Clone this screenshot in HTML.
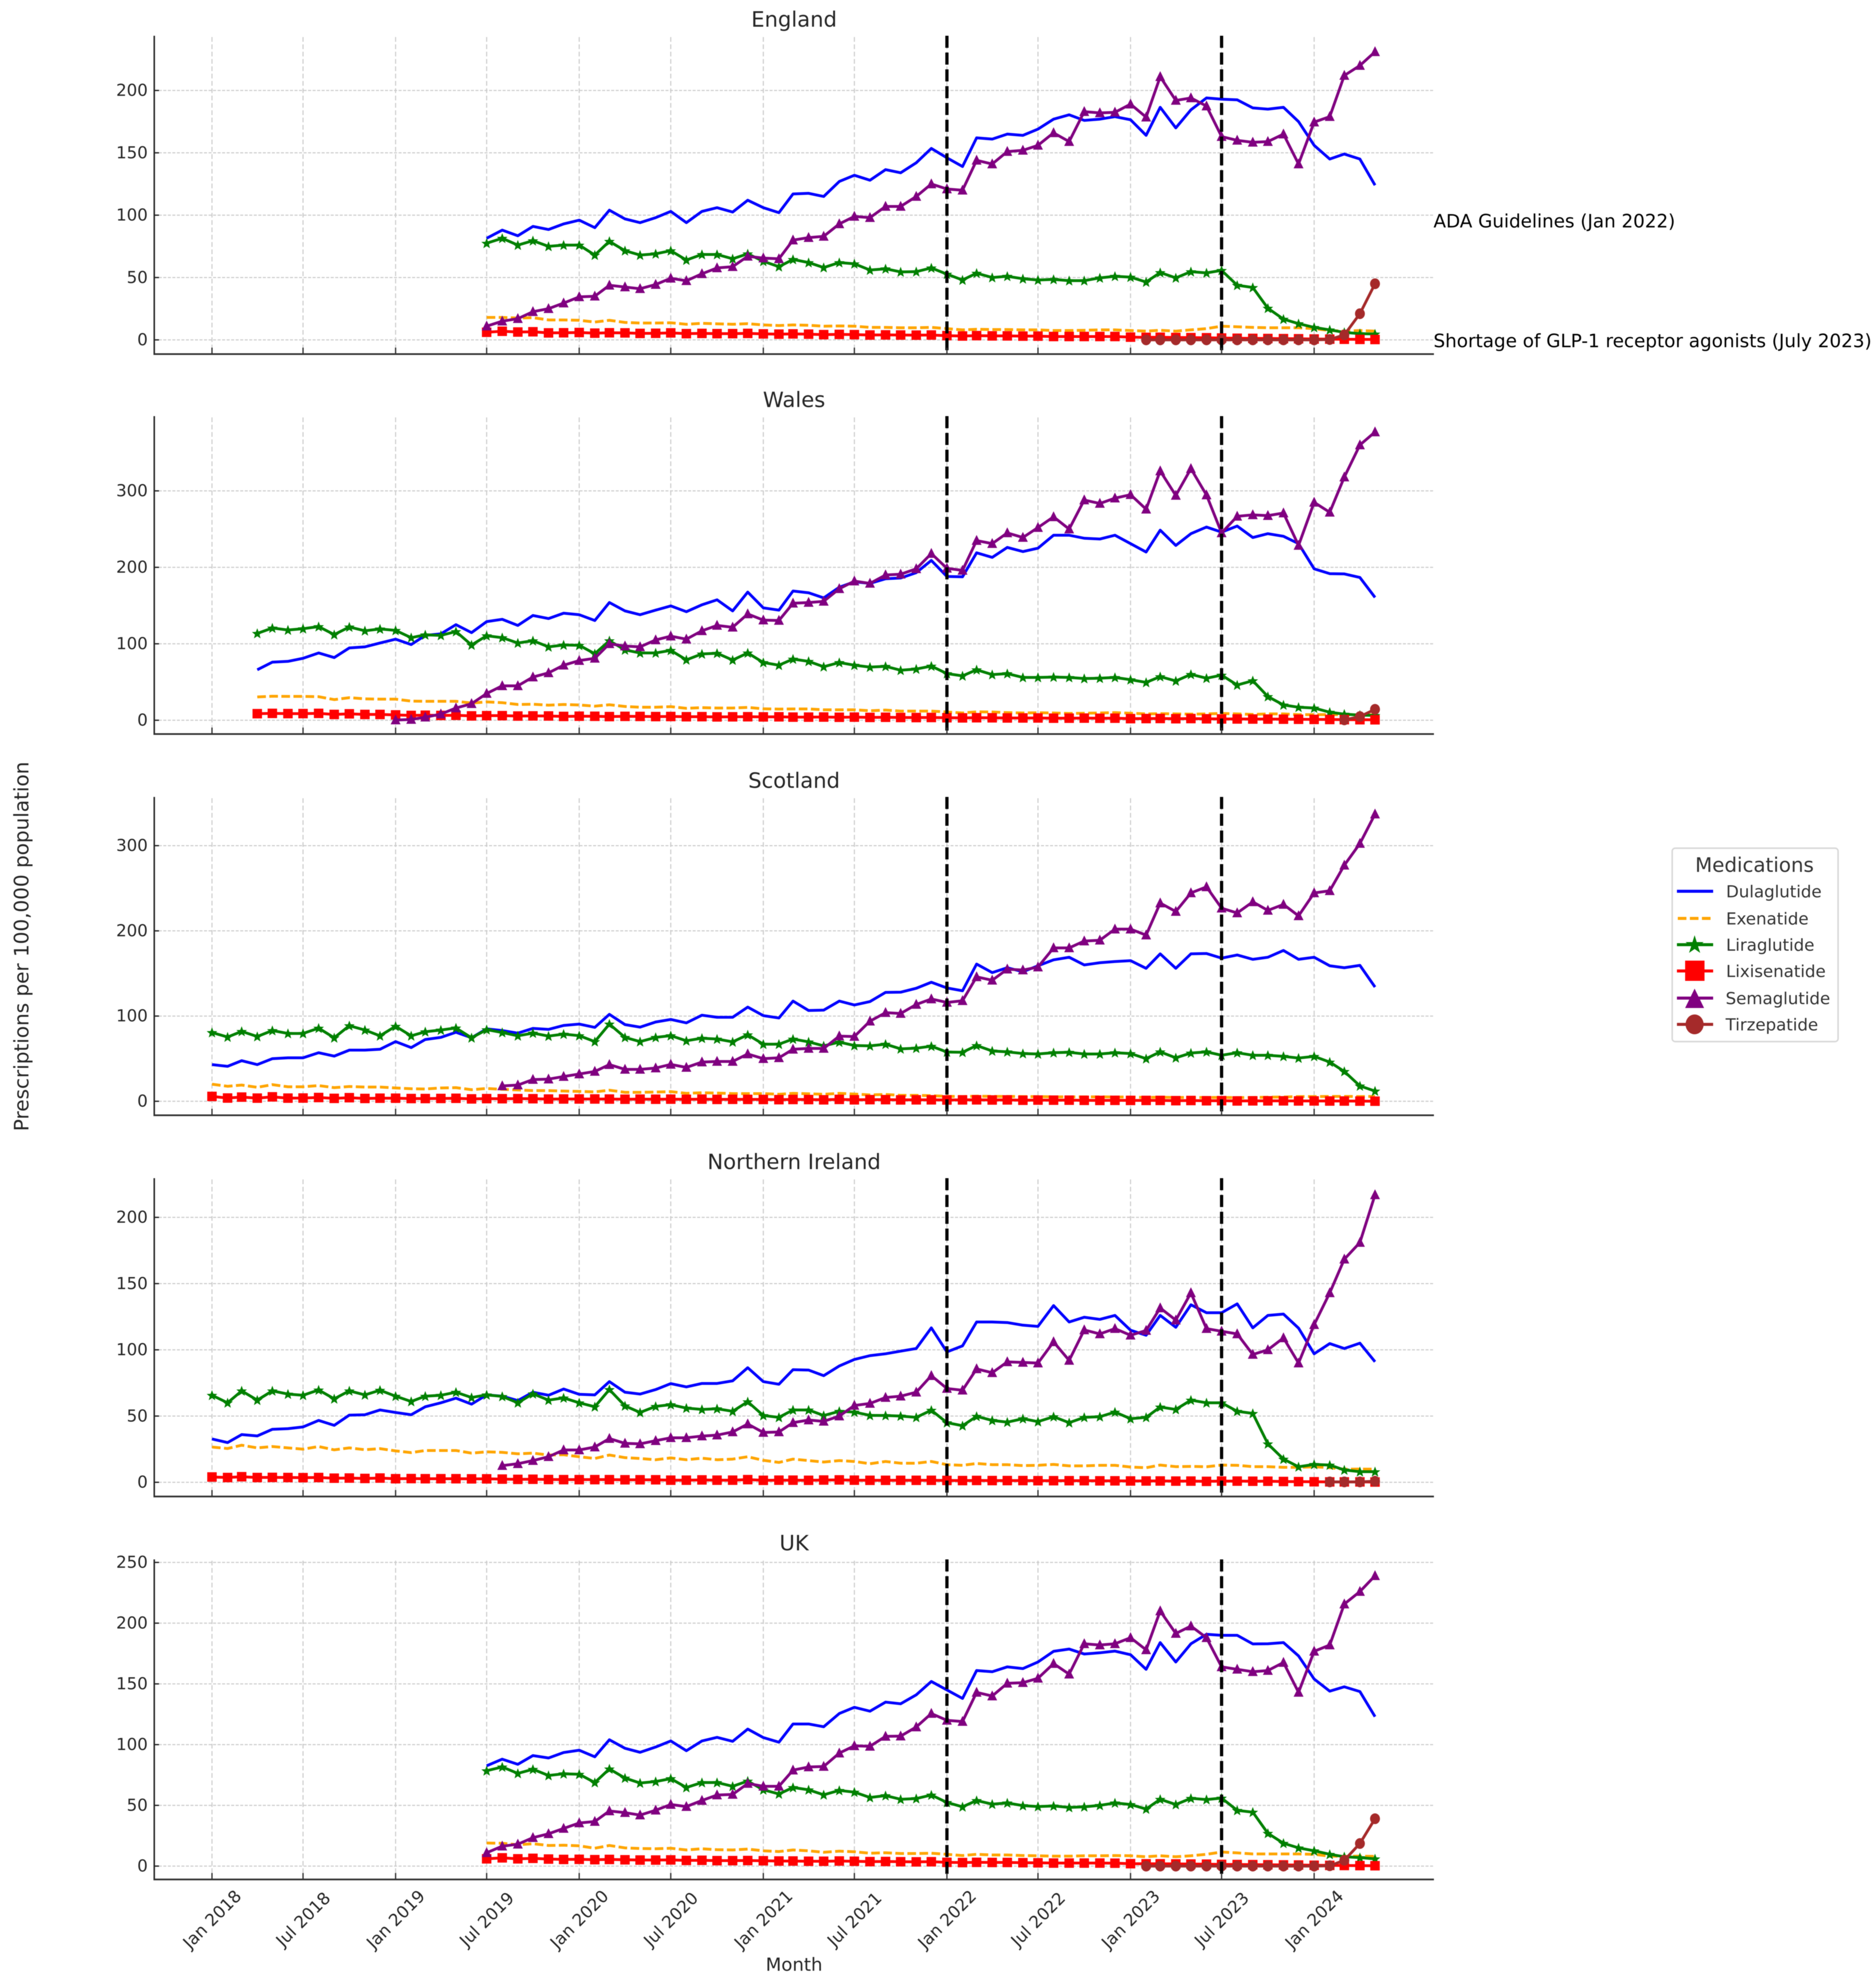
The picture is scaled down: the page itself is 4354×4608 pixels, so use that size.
<!DOCTYPE html>
<html lang="en">
<head>
<meta charset="utf-8">
<title>GLP-1 receptor agonist prescriptions per 100,000 population</title>
<style>
html,body{margin:0;padding:0;background:#fff;}
svg{display:block;filter:blur(0.9px);}
text{font-family:"DejaVu Sans","Liberation Sans",sans-serif;}
</style>
</head>
<body>
<svg id="chart" xmlns="http://www.w3.org/2000/svg" width="4354" height="4608" viewBox="0 0 4354 4608">
  <rect x="0" y="0" width="4354" height="4608" fill="#ffffff"/>
  <g id="plots"></g>

  <text x="50" y="2197" font-size="46.4" fill="#262626" text-anchor="middle" dominant-baseline="central" transform="rotate(-90 50 2197)">Prescriptions per 100,000 population</text>
  <text x="1843" y="4575" font-size="42" fill="#262626" text-anchor="middle">Month</text>

  <text x="3327" y="528" font-size="42.5" fill="#000000">ADA Guidelines (Jan 2022)</text>
  <text x="3327" y="806" font-size="42.6" fill="#000000">Shortage of GLP-1 receptor agonists (July 2023)</text>

  <g>
    <rect x="3881" y="1969" width="385" height="449" rx="7" ry="7" fill="#ffffff" stroke="#d8d8d8" stroke-width="3.5"/>
    <text x="4072" y="2024" font-size="46" fill="#333333" text-anchor="middle">Medications</text>

    <g>
      <line x1="3892" x2="3976" y1="2069" y2="2069" stroke="#0000ff" stroke-width="7"/>
      <text x="4006" y="2083" font-size="38.5" fill="#333333">Dulaglutide</text>
    </g>
    <g>
      <line x1="3894" x2="3974" y1="2132" y2="2132" stroke="#ffa500" stroke-width="7" stroke-dasharray="20 8"/>
      <text x="4006" y="2146" font-size="38.5" fill="#333333">Exenatide</text>
    </g>
    <g>
      <line x1="3892" x2="3976" y1="2193" y2="2193" stroke="#008000" stroke-width="7"/>
      <polygon points="3933,2171 3938,2187 3954,2187 3941,2197 3946,2212 3933,2203 3920,2212 3925,2197 3912,2187 3928,2187" fill="#008000"/>
      <text x="4006" y="2207" font-size="38.5" fill="#333333">Liraglutide</text>
    </g>
    <g>
      <line x1="3892" x2="3976" y1="2254" y2="2254" stroke="#ff0000" stroke-width="7"/>
      <rect x="3911" y="2230" width="45" height="47" fill="#ff0000"/>
      <text x="4006" y="2268" font-size="38.5" fill="#333333">Lixisenatide</text>
    </g>
    <g>
      <line x1="3892" x2="3976" y1="2317" y2="2317" stroke="#800080" stroke-width="7"/>
      <polygon points="3933,2295 3955,2340 3911,2340" fill="#800080"/>
      <text x="4005" y="2331" font-size="38.5" fill="#333333">Semaglutide</text>
    </g>
    <g>
      <line x1="3892" x2="3976" y1="2378" y2="2378" stroke="#a52a2a" stroke-width="7"/>
      <ellipse cx="3933" cy="2378" rx="21" ry="23" fill="#a52a2a"/>
      <text x="4005" y="2392" font-size="38.5" fill="#333333">Tirzepatide</text>
    </g>
  </g>
</svg>

<script>
/* Categories: every month on the shared date axis. Each series ends at the last month,
   so a shorter array simply starts later. */
const months = [
"2018-01","2018-02","2018-03","2018-04","2018-05","2018-06","2018-07","2018-08","2018-09","2018-10","2018-11","2018-12",
"2019-01","2019-02","2019-03","2019-04","2019-05","2019-06","2019-07","2019-08","2019-09","2019-10","2019-11","2019-12",
"2020-01","2020-02","2020-03","2020-04","2020-05","2020-06","2020-07","2020-08","2020-09","2020-10","2020-11","2020-12",
"2021-01","2021-02","2021-03","2021-04","2021-05","2021-06","2021-07","2021-08","2021-09","2021-10","2021-11","2021-12",
"2022-01","2022-02","2022-03","2022-04","2022-05","2022-06","2022-07","2022-08","2022-09","2022-10","2022-11","2022-12",
"2023-01","2023-02","2023-03","2023-04","2023-05","2023-06","2023-07","2023-08","2023-09","2023-10","2023-11","2023-12",
"2024-01","2024-02","2024-03","2024-04","2024-05"];

const xTickMonths = ["2018-01","2018-07","2019-01","2019-07","2020-01","2020-07","2021-01","2021-07","2022-01","2022-07","2023-01","2023-07","2024-01"];
const xTickLabels = ["Jan 2018","Jul 2018","Jan 2019","Jul 2019","Jan 2020","Jul 2020","Jan 2021","Jul 2021","Jan 2022","Jul 2022","Jan 2023","Jul 2023","Jan 2024"];
const eventMonths = ["2022-01","2023-07"];

const englandYTicks = [0,50,100,150,200];
const walesYTicks = [0,100,200,300];
const scotlandYTicks = [0,100,200,300];
const northernIrelandYTicks = [0,50,100,150,200];
const ukYTicks = [0,50,100,150,200,250];

/* England */
const englandDulaglutide = [81.5,88,83.5,91,88.5,93,96,90,104,97,
94,98,103,94,103,106,102.5,112,106,102,
117,117.5,115,127,132,128,136.5,134,142,153.5,
146,139,162,161,165,164,169,177,180.5,176,
177,179,176.5,164,186.5,170,184.5,194,193,192.5,
186,185,186.5,175,156,145,149,145,124];
const englandExenatide = [18,18,17.5,17.8,16,16,15.7,14.3,15.7,14,
13.5,13.5,13.7,12.5,13.3,12.9,12.5,13,12,11.5,
12,11.7,11,11.2,11,10,10,9.7,9.7,10,
9,8,8.5,8.3,8.3,8,8,7.5,7.5,7.7,
8,8,7.5,7,7.7,7,8,9,11,10.5,
10,9.7,9.7,9.7,9,7.5,7,7.5,7];
const englandLiraglutide = [77.5,81.5,76,79.5,75,76,76,68,79,71.5,
68,69,71.5,64,68.5,68.5,65,69,63,58.7,
64.5,62,58,62,61,56,57,54.5,54.7,57.7,
52.7,48,53.5,50,51,49,48,48.5,47.5,47.5,
49.7,51,50.3,46.4,54,49.7,54.7,53.7,55.7,43.8,
42,25.4,16.6,13,10,8,6,5,4.7];
const englandLixisenatide = [6.1,6.9,6.3,6.5,5.6,5.7,5.9,5.4,5.7,5.6,
5.2,5.3,5.6,5,5.2,5,5,5.2,4.8,4.6,
4.8,4.6,4.2,4.4,4.2,3.9,4,3.9,3.8,3.9,
3.4,3.1,3.4,3.2,3.2,3,3,2.7,2.7,2.7,
2.7,2.7,2.2,2,2.1,1.9,1.8,1.7,1.5,1.3,
1.2,1.1,1,.9,.7,.6,.5,.4,.3];
const englandSemaglutide = [11,15,17,22.6,25,29.5,34.5,35,43.8,42.4,
41,44.4,49.4,47.4,53,57.7,58.7,67,65.6,65,
80,82,83,93,99,98,107,107,115,125,
121,120,144,141,151,152,156,166,159,183,
182,182.5,189,178.6,211,192,194,187.5,163,160,
158.4,159,165,141,174.6,179,212,220,231];
const englandTirzepatide = [0,0,0,0,0,0,0,0,0,0,0,0,.3,4,21,45];

/* Wales */
const walesDulaglutide = [66,76,77,81,88,82,94.6,96,101,106,
99,111,113,125,114.6,129,132,124,137,133,
140,138,130.5,154,143,138,144,149.5,142,151,
157.5,143,167.6,147,144,169,166.7,160,174,181,
179,185,186,193,209,188,187.6,219,213,226,
220.6,225,242,242,238,237,242,231,220,248.6,
228.6,244,252.7,246,254,239,244,240.6,231,198,
191.7,191.4,186.7,160.6];
const walesExenatide = [30.5,31.4,31.2,31.2,30.8,27,29.5,28,27.6,27.6,
25,24.8,24.8,24.8,22.5,24,23,20.6,21,19.7,
20.6,20,18.4,20.3,18,17,17,17.8,15.6,16.5,
16,16,16.8,15,14.6,14.8,14.8,13.7,13.7,13.7,
12.4,13.3,12,12,12,10.8,9.5,11,10.8,10,
9.5,9.8,9.5,8.9,9.2,9.5,10,9.2,8.3,8.6,
8.3,8,8.3,8.9,8.3,7.6,8.3,8.3,7.3,7.3,
7.3,7.3,7,7];
const walesLiraglutide = [113.6,120.6,118,119.7,122.5,112,122,117,119.4,117.5,
108,111.7,111,116,98.4,110.5,108,101,104,96,
98.4,98,87,104,92,88,88,91.4,79,86.7,
87.6,78.7,88,75.5,72,80,77,70,75.5,72,
69.5,70.5,65.4,67,70.8,61,58,66,59.7,61,
56,56,56.5,56,54.6,55,56,53,49.5,57,
51.4,60,55,59,46,51.7,31,20,17,16,
10.5,8,6.7,6.3];
const walesLixisenatide = [8.6,9,8.7,8.7,9,7.6,8.4,7.6,7.6,7,
6.3,6.6,6.3,6.5,5.7,6,6,5.5,5.7,5.6,
5,5.3,5.2,4.8,5.1,5,4.8,4.9,4.6,4.7,
4.4,4.5,4.6,4.4,4.5,4.1,4.1,4.2,3.9,4.1,
3.7,3.9,3.6,3.5,3.6,3.3,3.1,3.3,3.2,3,
3,3,2.7,2.7,2.8,2.6,2.7,2.1,2.2,2.3,
2,2.2,1.9,1.7,1.7,1.6,1.5,1.4,1.3,1.1,
1,.8,.7,.6];
const walesSemaglutide = [.3,1,4,8,16,21.6,35,45,45,56.5,
62,72,78,81,100,97,96,105,110,106,
117,124,121.6,139,131,130.5,153,154,155.5,172,
182,179,190,191,198,218,198.7,196,235,231,
245,239,252,266,250,288,283.5,290.5,295,276,
326,294,329,294.6,245,266.7,268.6,267.6,271,228.6,
285,272,318,360,377];
const walesTirzepatide = [.5,4.8,14.3];

/* Scotland */
const scotlandDulaglutide = [43,41,47.6,43,50,51,51,57,53,60,
60,61,70,63,72.5,75,81,74.5,85,83,
80,85.5,84.4,89,90.6,86.7,102,90,87,93,
96,92,101,98.6,98.6,110.5,100.5,97.7,117.6,106.5,
107,117.6,113,117,127.8,128,132.6,139.7,133,129.7,
161,151,156.7,152,159,166,169,160,162.6,164,
165,156,173,156,173,173.4,168,171.7,166.6,169,
177,166.6,169,159,156.7,159.5,134];
const scotlandExenatide = [20,17.6,19,16.4,19.5,17,17,18.4,16,17.3,
16.7,16.7,15.6,14.7,14.4,15.6,16,13.6,15,14,
13.3,12.5,12.5,12,11.6,11,13,10.5,10.5,10.8,
11.3,9.3,10,9.6,9,9,9,8.2,9.3,8.8,
8.2,9.3,8.5,7.5,8,7,7,6.5,5.8,5.5,
6,5.7,5.7,5.5,5.5,5.2,5.2,5.2,5.2,5,
5,4.5,4.8,4.5,4.5,4.5,4.5,4.3,4.5,4.8,
5,5.5,5.5,5.7,5.7,5.5,5.7];
const scotlandLiraglutide = [80.7,75.4,82,76,83,79.6,79.6,85.8,74.5,88.7,
83.6,76.8,88,76.8,81.6,83.6,86,74.5,84,80.7,
76.8,80,76.5,78.8,77,70,90.6,75,70,75,
77,71,74,73,69.7,78,67,67,73,69.7,
65,69.4,65.4,65,67,61.5,62.3,64.6,57.8,57.5,
65.4,59,58,56,55.5,57,57.5,55.5,55.5,57,
56,50,58,51,56.6,58,54,57,54,54,
52.7,50.7,52.7,46,35,18,12];
const scotlandLixisenatide = [5.7,3.8,4.9,3.7,5.2,3.7,3.8,4.4,3.4,4.2,
3.3,3.6,3.6,3.2,3.2,3.3,3.5,2.8,3.1,3,
3.1,3,2.6,2.7,2.7,2.7,2.6,2.4,2.5,2.4,
2.5,2.3,2.5,2.2,2.3,2.2,2.1,1.9,2.1,2,
1.7,2.2,1.7,1.9,1.9,1.6,1.7,1.7,1.5,1.6,
1.7,1.5,1.6,1.2,1.4,1.3,1.3,1.1,1,1.1,
1,1,1,.7,.9,.6,.7,.4,.5,.5,
.5,.4,.4,.3,.3,.2,.1];
const scotlandSemaglutide = [18,19,25.5,26,29,32,35,43,37.4,37.4,
39,43.3,39.7,46,46.7,46.7,55.5,50,51,61,
62,62,76.5,76,94,104,103,113.6,120,116,
118,146,142,155,154,157.5,180,180,188,189,
202,202,195,232.6,222.7,244.5,251.6,226.6,221,234,
224,231,217.6,244.5,247,277,302.5,337];
const scotlandTirzepatide = [];

/* Northern Ireland */
const northernIrelandDulaglutide = [32.7,30,36,35,40,40.5,41.8,46.7,43,50.7,
51,54.6,52.7,51,57,60,63.5,59,66,65,
61.7,68,65.7,70.4,66.4,66,76,68,66.6,70,
74.5,72,74.6,74.6,76.6,86.5,76,74,85,84.7,
80.5,87.8,92.7,95.6,97,99,101,116.6,98.4,103,
121,121,120.6,118.6,117.7,133.4,121,124.6,123,126,
114.8,111,126,117,134,128,128,134.7,116.6,126,
127,116.4,97,104.7,101,105,91];
const northernIrelandExenatide = [26.6,25.5,28,26,27,26,25,27,24.5,26,
24.6,25.4,23.7,22.4,24,24,24,22,23,22.6,
21.5,22,20.6,20.8,19.3,18,20.6,18.6,18,17,
18.4,17,18.2,17,17.5,19.3,16.6,15,17.5,16.4,
15.3,16.4,15.7,14,15.7,14.4,14.4,15.7,13.3,12.8,
14.2,13.3,13.3,12.6,12.8,13.5,12.4,12.4,12.8,12.8,
11.5,11,13,11.8,12,11.7,13,12.8,11.8,11.8,
11.3,11.3,11.7,11,9.9,10,9.9];
const northernIrelandLiraglutide = [65.7,60,69,62,69,66.6,65.7,69.7,63,69,
66,69.5,65,61,65,65.7,68,64,66,64.8,
60,66.8,62,63.7,60,57,70,57.7,52.7,57.3,
58.6,56,55,55.5,53.6,60.8,50.4,49,54.6,54.6,
50.4,53.6,53,50.5,50.4,50,49,54.4,45,42.7,
49.8,46.7,45.4,48,45.8,49.5,45,49,49.5,53,
48,49,56.8,55,62,60,60,53.6,52,29,
17.5,11.7,13.5,13,9.3,8,8];
const northernIrelandLixisenatide = [4,3.6,4.2,3.6,3.7,3.6,3.5,3.6,3.1,3.2,
2.9,3.2,2.7,2.8,2.7,2.7,2.7,2.6,2.6,2.4,
2.2,2.3,2.1,2,2,2,2,1.9,1.9,1.9,
1.6,1.6,1.8,1.6,1.6,2,1.5,1.6,1.6,1.5,
1.7,1.8,1.6,1.5,1.5,1.5,1.5,1.5,1.4,1.3,
1.4,1.3,1.3,1.3,1.2,1.2,1.2,1.2,1.1,1.1,
1,1,1,.9,.9,.7,.9,.9,.8,.8,
.6,.5,.4,.3,.3,.3,.2];
const northernIrelandSemaglutide = [12.6,14,16.4,19.3,24.4,24.4,26.6,33,29.4,29,
31.4,33.6,33.6,34.9,35.6,38,44,37.6,38,45,
47,46,50,58,59.5,64,65,68,80.5,70.8,
69.5,85.6,82.7,90.9,90.5,90,106,92,115,112,
116,111,114.6,131.6,122.4,143,116,114,112,96.5,
100,109,90,119,143,168.4,181,217];
const northernIrelandTirzepatide = [.3,.3,.3,.8];

/* UK */
const ukDulaglutide = [82.6,88,83.8,91,89,93.5,95.4,90,104,97,
93.7,98,103,95,103,106,102.7,112.8,105.8,102,
117,117,114.7,125.6,130.7,127.5,135,133.6,141,152,
145,138,161,160,164,162.6,168,176.8,178.7,174.6,
175.6,177,174,162,184,168,183,190.8,190,190,
182.9,183,184,173,154,144,147.6,143.7,123];
const ukExenatide = [19,18.8,17.6,18.4,17,17.2,16.7,14.7,17,15,
14.5,14.3,14.7,13.3,14.3,13.5,13.3,14,12.6,12,
13.3,12.6,11.4,12.3,11.8,10.6,11,10.4,10.4,10.6,
9.7,8.7,9.7,9.2,9.2,8.7,8.5,8.2,8.2,8.5,
8.5,8.7,8.5,7.7,8.5,7.7,8.5,9.7,11.6,10.9,
10,10,10,10,9.7,8.2,8,8.2,8];
const ukLiraglutide = [78.5,81.6,76.3,79.7,74.6,76,75.6,68.8,80,72.5,
68.4,69.6,72,64.7,68.8,68.8,65.7,70,62.8,59.4,
64.7,62.8,58.7,62.3,60.9,56.5,58,55,55.6,58.5,
52.4,48.8,54,51,52,49.8,49,49.5,48.3,48.8,
50,52,50.7,47,55,50.7,55.8,54.8,56,45.9,
44.4,27,18.8,15,12.6,9.7,7.7,7,6];
const ukLixisenatide = [6,6.8,6,6.4,5.8,5.5,5.6,5.3,5.5,5.2,
5,5,5.1,4.7,4.8,4.5,4.5,4.6,4.4,4.2,
4.2,4,4,4.2,4,3.7,3.8,3.6,3.5,3.6,
3.1,2.9,3.1,3,3,2.8,2.7,2.5,2.5,2.5,
2.5,2.4,2,1.9,1.9,1.8,1.7,1.6,1.4,1.3,
1.2,1.1,1,.9,.7,.6,.5,.4,.3];
const ukSemaglutide = [11,16.4,18,23.4,26.6,31,35.5,36.7,45.4,44,
42,46,50.7,49,54,58.5,59,68,65.7,65.7,
79,81.6,82,93,99,98.6,106.8,107,114.5,125.6,
120,119,143,140,150.5,151,154.6,166.7,158,183,
182,183,188,178,210,191.5,197.6,188,164,162,
160,161,167.6,143,176.8,182,215.7,226,239];
const ukTirzepatide = [0,0,0,0,0,0,0,0,0,0,0,0,.3,4.8,18.6,39];

/* Layout and styling (separate from the data) */
const NS = 'http://www.w3.org/2000/svg';
const PLOT_LEFT = 358, PLOT_RIGHT = 3328;
const X_ORIGIN_PX = 492, PX_PER_DAY = 1.1675;
const ORIGIN_MS = Date.UTC(2018, 0, 1);

const meds = [
  {slug:'dulaglutide',  color:'#0000ff', width:6.5, dash:null,  marker:null},
  {slug:'exenatide',    color:'#ffa500', width:6.5, dash:'20 8',marker:null},
  {slug:'liraglutide',  color:'#008000', width:6.5, dash:null,  marker:'star'},
  {slug:'lixisenatide', color:'#ff0000', width:6.5, dash:null,  marker:'square'},
  {slug:'semaglutide',  color:'#800080', width:6.5, dash:null,  marker:'triangle'},
  {slug:'tirzepatide',  color:'#a52a2a', width:6.5, dash:null,  marker:'circle'}
];

const panels = [
  {title:'England', slug:'england', top:83, bottom:822, zero:789, unit:2.895, ticks:englandYTicks,
   series:[englandDulaglutide,englandExenatide,englandLiraglutide,englandLixisenatide,englandSemaglutide,englandTirzepatide]},
  {title:'Wales', slug:'wales', top:966, bottom:1704, zero:1672, unit:1.775, ticks:walesYTicks,
   series:[walesDulaglutide,walesExenatide,walesLiraglutide,walesLixisenatide,walesSemaglutide,walesTirzepatide]},
  {title:'Scotland', slug:'scotland', top:1850, bottom:2589, zero:2556.5, unit:1.978, ticks:scotlandYTicks,
   series:[scotlandDulaglutide,scotlandExenatide,scotlandLiraglutide,scotlandLixisenatide,scotlandSemaglutide,scotlandTirzepatide]},
  {title:'Northern Ireland', slug:'northern-ireland', top:2735, bottom:3474, zero:3441, unit:3.075, ticks:northernIrelandYTicks,
   series:[northernIrelandDulaglutide,northernIrelandExenatide,northernIrelandLiraglutide,northernIrelandLixisenatide,northernIrelandSemaglutide,northernIrelandTirzepatide]},
  {title:'UK', slug:'uk', top:3620, bottom:4363, zero:4332, unit:2.82, ticks:ukYTicks,
   series:[ukDulaglutide,ukExenatide,ukLiraglutide,ukLixisenatide,ukSemaglutide,ukTirzepatide]}
];

function xScale(month) {
  const parts = month.split('-');
  const days = (Date.UTC(+parts[0], +parts[1] - 1, 1) - ORIGIN_MS) / 86400000;
  return X_ORIGIN_PX + days * PX_PER_DAY;
}
function yScale(panel, value) {
  return panel.zero - value * panel.unit;
}
function mk(tag, attrs, parent) {
  const el = document.createElementNS(NS, tag);
  for (const k in attrs) el.setAttribute(k, attrs[k]);
  parent.appendChild(el);
  return el;
}
function starPoints(cx, cy, outer, inner) {
  const pts = [];
  for (let i = 0; i < 10; i++) {
    const r = i % 2 ? inner : outer;
    const a = -Math.PI / 2 + i * Math.PI / 5;
    pts.push((cx + r * Math.cos(a)).toFixed(1) + ',' + (cy + r * Math.sin(a)).toFixed(1));
  }
  return pts.join(' ');
}
function drawMarker(kind, x, y, color, parent) {
  if (kind === 'star') return mk('polygon', {points: starPoints(x, y + 1, 13, 5.5), fill: color}, parent);
  if (kind === 'square') return mk('rect', {x: x - 11, y: y - 11, width: 22, height: 22, fill: color}, parent);
  if (kind === 'triangle') return mk('polygon', {points: x + ',' + (y - 13) + ' ' + (x + 11.5) + ',' + (y + 10) + ' ' + (x - 11.5) + ',' + (y + 10), fill: color}, parent);
  return mk('ellipse', {cx: x, cy: y, rx: 11.5, ry: 12.5, fill: color}, parent);
}

const plots = document.getElementById('plots');

panels.forEach(function (panel, panelIndex) {
  const g = mk('g', {}, plots);
  
  

  const title = mk('text', {x: 1843, y: panel.top - 21, 'font-size': 49, fill: '#262626', 'text-anchor': 'middle'}, g);
  title.textContent = panel.title;
  
  

  /* grid */
  xTickMonths.forEach(function (m) {
    const x = xScale(m);
    const grid = mk('line', {x1: x, x2: x, y1: panel.top + 3, y2: panel.bottom, stroke: '#cccccc', 'stroke-width': 2.5, 'stroke-dasharray': '11 6'}, g);
    
    
  });
  panel.ticks.forEach(function (t) {
    const y = yScale(panel, t);
    const grid = mk('line', {x1: PLOT_LEFT, x2: PLOT_RIGHT, y1: y, y2: y, stroke: '#cccccc', 'stroke-width': 2.5, 'stroke-dasharray': '7 3.5'}, g);
    
    
  });

  /* series */
  meds.forEach(function (med, mi) {
    const values = panel.series[mi];
    if (!values.length) return;
    const offset = months.length - values.length;
    const pts = values.map(function (v, i) {
      return [xScale(months[i + offset]), yScale(panel, v)];
    });
    const d = pts.map(function (p, i) {
      return (i ? 'L' : 'M') + p[0].toFixed(1) + ' ' + p[1].toFixed(1);
    }).join('');
    const attrs = {d: d, fill: 'none', stroke: med.color, 'stroke-width': med.width, 'stroke-linejoin': 'round'};
    if (med.dash) attrs['stroke-dasharray'] = med.dash;
    const seriesGroup = mk('g', {}, g);
    
    
    const line = mk('path', attrs, seriesGroup);
    
    
    if (med.marker) {
      pts.forEach(function (p) {
        const marker = drawMarker(med.marker, p[0], p[1], med.color, seriesGroup);
        
        
      });
    }
  });

  /* event lines */
  eventMonths.forEach(function (m) {
    const x = xScale(m);
    const ev = mk('line', {x1: x, x2: x, y1: panel.top, y2: panel.bottom, stroke: '#000000', 'stroke-width': 7.5, 'stroke-dasharray': '28 11'}, g);
    
    
  });

  /* axes */
  const leftSpine = mk('line', {x1: PLOT_LEFT, x2: PLOT_LEFT, y1: panel.top, y2: panel.bottom + 2, stroke: '#262626', 'stroke-width': 3.5}, g);
  
  
  const bottomSpine = mk('line', {x1: PLOT_LEFT, x2: PLOT_RIGHT, y1: panel.bottom, y2: panel.bottom, stroke: '#333333', 'stroke-width': 4}, g);
  
  

  panel.ticks.forEach(function (t) {
    const y = yScale(panel, t);
    const tick = mk('line', {x1: PLOT_LEFT, x2: PLOT_LEFT + 11, y1: y, y2: y, stroke: '#262626', 'stroke-width': 3}, g);
    
    
    const label = mk('text', {x: 343, y: y, 'font-size': 38.5, fill: '#262626', 'text-anchor': 'end', 'dominant-baseline': 'central'}, g);
    label.textContent = String(t);
    
    
  });

  xTickMonths.forEach(function (m, i) {
    const x = xScale(m);
    const tick = mk('line', {x1: x, x2: x, y1: panel.bottom - 15, y2: panel.bottom, stroke: '#333333', 'stroke-width': 3}, g);
    
    
    if (panelIndex === panels.length - 1) {
      const cy = 4456;
      const lx = x + 1;
      const label = mk('text', {x: lx, y: cy, 'font-size': 39, fill: '#262626', 'text-anchor': 'middle', 'dominant-baseline': 'central', transform: 'rotate(-45 ' + lx + ' ' + cy + ')'}, g);
      label.textContent = xTickLabels[i];
      
      
    }
  });
});
</script>
</body>
</html>
